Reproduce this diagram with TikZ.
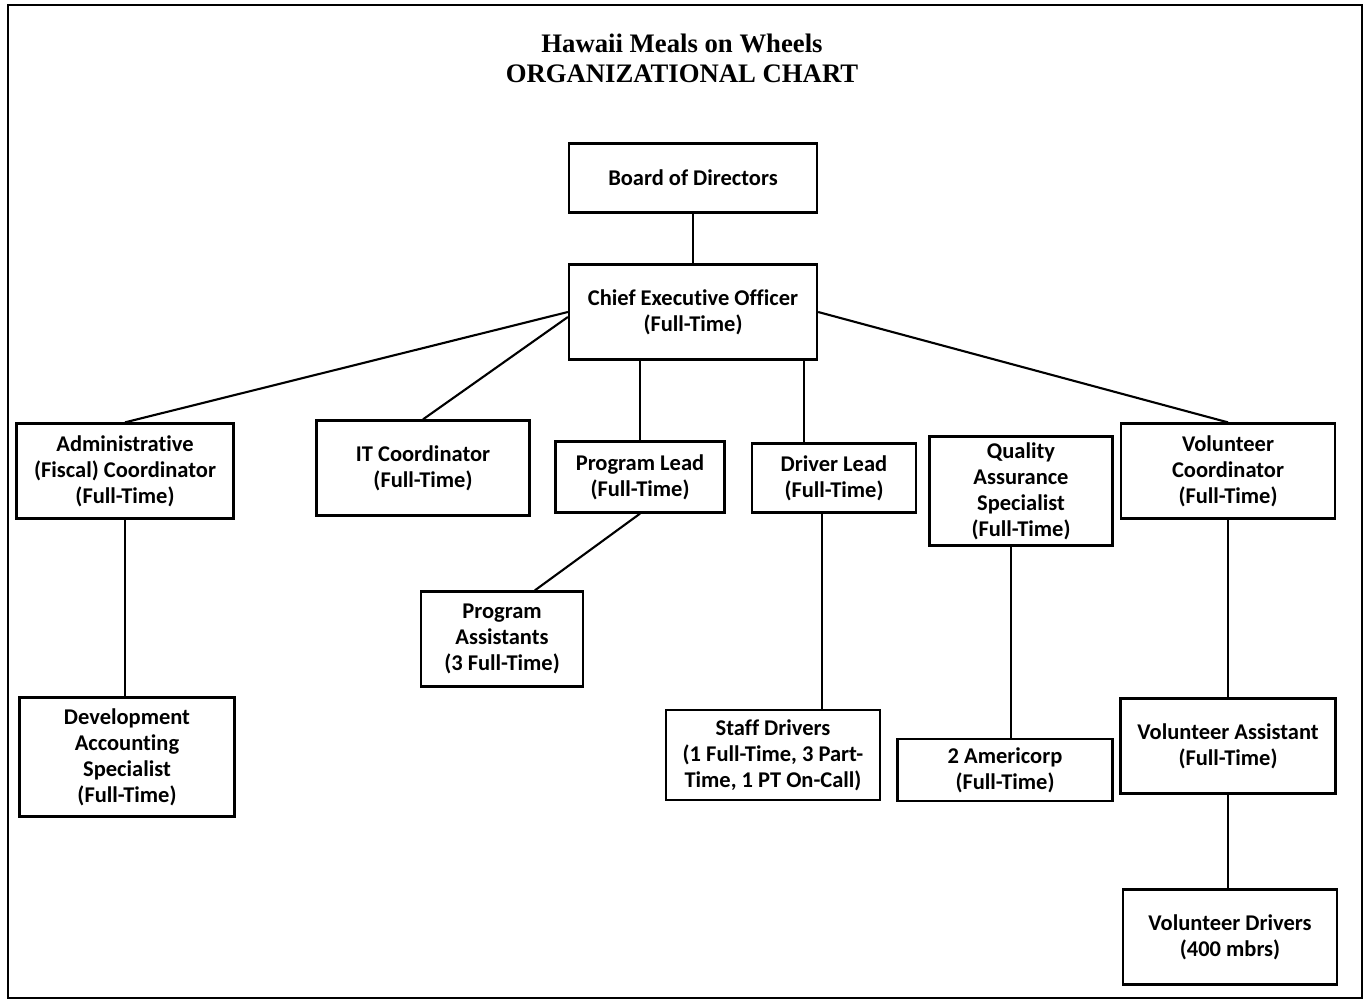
\documentclass[tikz,border=0pt]{standalone}
\usepackage{fontspec}
\setmainfont{Carlito}[Ligatures=NoCommon]
\newfontfamily\titlefont{Liberation Serif}
\usepackage{tikz}
\usetikzlibrary{positioning, calc}

\tikzset{
  orgbox/.style={rectangle, draw, line width=1.3pt, inner sep=0pt, align=center,
    font=\fontsize{12.8}{14.8}\selectfont\bfseries},
  orgline/.style={line width=1.2pt}
}

\begin{document}
\begin{tikzpicture}[x=0.02cm, y=-0.02cm]
    \useasboundingbox (0,0) rectangle (1365,1003);
    % page frame
    \draw [line width=1.2pt] (8,998) -- (8,5) -- (1362,5) -- (1362,998) -- cycle;

    \node (title) at (682,58) [align=center, font=\titlefont\fontsize{15.2}{17.2}\selectfont\bfseries] {Hawaii Meals on Wheels\\ORGANIZATIONAL CHART};

    % top level
    \node (board) at (693,178) [orgbox, minimum width=4.96cm, minimum height=1.38cm] {Board of Directors};
    \node (ceo) at (693,312) [orgbox, minimum width=4.96cm, minimum height=1.9cm] {Chief Executive Officer\\(Full-Time)};

    % second level
    \node (admin) at (125,471) [orgbox, minimum width=4.34cm, minimum height=1.9cm] {Administrative\\(Fiscal) Coordinator\\(Full-Time)};
    \node (itcoord) at (423,468) [orgbox, minimum width=4.26cm, minimum height=1.9cm] {IT Coordinator\\(Full-Time)};
    \node (proglead) at (640,477) [orgbox, minimum width=3.38cm, minimum height=1.42cm] {Program Lead\\(Full-Time)};
    \node (drvlead) at (834,478) [orgbox, minimum width=3.28cm, minimum height=1.38cm] {Driver Lead\\(Full-Time)};
    \node (qaspec) at (1021,491) [orgbox, minimum width=3.66cm, minimum height=2.18cm] {Quality\\Assurance\\Specialist\\(Full-Time)};
    \node (volcoord) at (1228,471) [orgbox, minimum width=4.28cm, minimum height=1.9cm] {Volunteer\\Coordinator\\(Full-Time)};

    % third level
    \node (devspec) at (127,757) [orgbox, minimum width=4.3cm, minimum height=2.38cm] {Development\\Accounting\\Specialist\\(Full-Time)};
    \node (progasst) at (502,639) [orgbox, minimum width=3.24cm, minimum height=1.9cm] {Program\\Assistants\\(3 Full-Time)};
    \node (staffdrv) at (773,755) [orgbox, minimum width=4.28cm, minimum height=1.8cm] {Staff Drivers\\(1 Full-Time, 3 Part-\\Time, 1 PT On-Call)};
    \node (americorp) at (1005,770) [orgbox, minimum width=4.3cm, minimum height=1.24cm] {2 Americorp\\(Full-Time)};
    \node (volasst) at (1228,746) [orgbox, minimum width=4.3cm, minimum height=1.9cm] {Volunteer Assistant\\(Full-Time)};
    \node (voldrv) at (1230,937) [orgbox, minimum width=4.28cm, minimum height=1.9cm] {Volunteer Drivers\\(400 mbrs)};

    % connectors
    \draw [orgline] (board) -- (ceo);
    \draw [orgline] (ceo.west) -- (admin.north);
    \draw [orgline] ($(ceo.west)+(0,5)$) -- (itcoord.north);
    \draw [orgline] (ceo.east) -- (volcoord.north);
    \draw [orgline] (proglead.north |- ceo.south) -- (proglead.north);
    \draw [orgline] ($(drvlead.north west)!0.32!(drvlead.north east)$) coordinate (dlt) -- (dlt |- ceo.south);
    \draw [orgline] (admin.south) -- (admin.south |- devspec.north);
    \draw [orgline] (proglead.south) -- ($(progasst.north west)!0.7!(progasst.north east)$);
    \draw [orgline] ($(drvlead.south)+(-12,0)$) coordinate (dlb) -- (dlb |- staffdrv.north);
    \draw [orgline] ($(qaspec.south)+(-10,0)$) coordinate (qab) -- (qab |- americorp.north);
    \draw [orgline] (volcoord) -- (volasst);
    \draw [orgline] (volasst.south) -- (volasst.south |- voldrv.north);
\end{tikzpicture}
\end{document}
